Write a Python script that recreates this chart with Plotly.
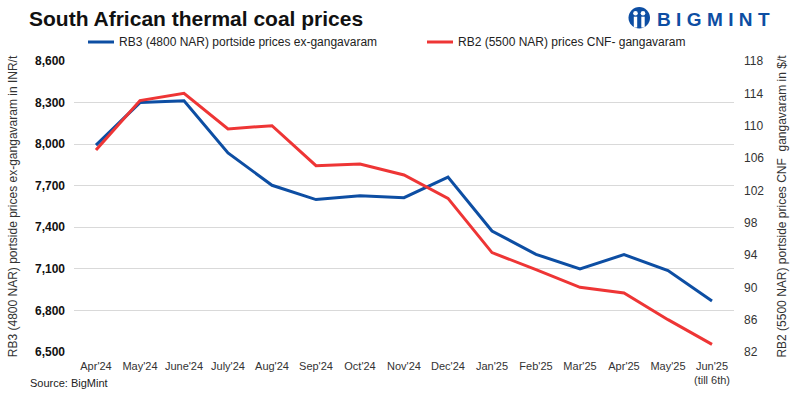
import plotly.graph_objects as go

months = ["Apr'24", "May'24", "June'24", "July'24", "Aug'24", "Sep'24", "Oct'24",
          "Nov'24", "Dec'24", "Jan'25", "Feb'25", "Mar'25", "Apr'25", "May'25", "Jun'25"]
tick_labels = ["Apr'24", "May'24", "June'24", "July'24", "Aug'24", "Sep'24", "Oct'24",
               "Nov'24", "Dec'24", "Jan'25", "Feb'25", "Mar'25", "Apr'25", "May'25",
               "Jun'25<br>(till 6th)"]
rb3_inr = [7993, 8300, 8313, 7937, 7703, 7600, 7628, 7614, 7762, 7373, 7205, 7100, 7203, 7088, 6868]
rb2_usd = [107.0, 113.1, 114.0, 109.6, 110.0, 105.05, 105.25, 103.9, 101.0, 94.3, 92.2, 90.0, 89.3, 86.0, 82.95]

left_ticks = [6500, 6800, 7100, 7400, 7700, 8000, 8300, 8600]
right_ticks = [82, 86, 90, 94, 98, 102, 106, 110, 114, 118]

series_names = ["RB3 (4800 NAR) portside prices ex-gangavaram",
                "RB2 (5500 NAR) prices CNF- gangavaram"]

BLUE = "#0d4ea3"
RED = "#ee3535"
FONT = "Liberation Sans"

fig = go.Figure()
fig.add_trace(go.Scatter(x=months, y=rb3_inr, mode="lines", name=series_names[0],
                         line=dict(color=BLUE, width=3)))
fig.add_trace(go.Scatter(x=months, y=rb2_usd, mode="lines", name=series_names[1],
                         line=dict(color=RED, width=3), yaxis="y2"))

W, H = 792, 393
L, R, T, B = 74, 58, 61, 41
PW, PH = W - L - R, H - T - B


def px(xp):
    return (xp - L) / PW


def py(yp):
    return (H - B - yp) / PH


fig.update_layout(
    width=W, height=H,
    margin=dict(l=L, r=R, t=T, b=B, autoexpand=False),
    paper_bgcolor="white", plot_bgcolor="white",
    font=dict(family=FONT, color="#222222", size=12),
    showlegend=False,
    xaxis=dict(type="category", categoryorder="array", categoryarray=months,
               tickvals=months, ticktext=tick_labels, range=[-0.5, 14.5], automargin=False,
               showgrid=False, showline=False, ticks="", ticklabelstandoff=6,
               tickfont=dict(size=11, color="#333333")),
    yaxis=dict(range=[6500, 8600], tickvals=left_ticks, tickformat=",d", showgrid=True,
               gridcolor="#d9d9d9", gridwidth=1.3, zeroline=False, showline=False, automargin=False,
               ticklabelstandoff=8,
               tickfont=dict(size=12, color="#111111", weight="bold"),
               title=dict(text="RB3 (4800 NAR) portside prices ex-gangavaram in INR/t",
                          font=dict(size=12, color="#333333"), standoff=14)),
    yaxis2=dict(range=[82, 118], tickvals=right_ticks, overlaying="y", side="right",
                showgrid=False, zeroline=False, showline=False, automargin=False,
                ticklabelstandoff=9,
                tickfont=dict(size=12, color="#333333"),
                title=dict(text="RB2 (5500 NAR) portside prices CNF  gangavaram in $/t",
                           font=dict(size=12, color="#333333"), standoff=14)),
)

# Title
fig.add_annotation(text="<b>South African thermal coal prices</b>", xref="paper", yref="paper",
                   x=px(27), y=py(18), xanchor="left", yanchor="middle", showarrow=False,
                   font=dict(family=FONT, size=21, color="#111111"))

# Legend (manual)
legend_items = [(88, BLUE, series_names[0]), (427, RED, series_names[1])]
for x0, col, name in legend_items:
    fig.add_shape(type="line", xref="paper", yref="paper", x0=px(x0), x1=px(x0 + 26),
                  y0=py(42), y1=py(42), line=dict(color=col, width=3))
    fig.add_annotation(text=name, xref="paper", yref="paper", x=px(x0 + 29), y=py(42),
                       xanchor="left", yanchor="middle", showarrow=False,
                       font=dict(size=12, color="#222222"))

# Source note
fig.add_annotation(text="Source: BigMint", xref="paper", yref="paper",
                   x=px(28), y=py(383), xanchor="left", yanchor="middle",
                   showarrow=False, font=dict(size=11, color="#222222"))

# Logo
fig.add_shape(type="circle", xref="paper", yref="paper", x0=px(628.5), x1=px(650), y0=py(28.5), y1=py(7),
              fillcolor=BLUE, line=dict(width=0))
for cx in (635.5, 643):
    fig.add_shape(type="circle", xref="paper", yref="paper", x0=px(cx - 2.3), x1=px(cx + 2.3),
                  y0=py(15.6), y1=py(11), fillcolor="white", line=dict(width=0))
    fig.add_shape(type="rect", xref="paper", yref="paper", x0=px(cx - 1.7), x1=px(cx + 1.7),
                  y0=py(27.5), y1=py(16.7), fillcolor="white", line=dict(width=0))
sp = "\u2009\u200a"
fig.add_annotation(text="<b>" + sp.join("BIGMINT") + "</b>", xref="paper", yref="paper",
                   x=px(655), y=py(19), xanchor="left", yanchor="middle", showarrow=False,
                   font=dict(family=FONT, size=19, color=BLUE))

fig.write_html("out.html", config={"displayModeBar": False},
               post_script="document.body.style.margin='0';")
